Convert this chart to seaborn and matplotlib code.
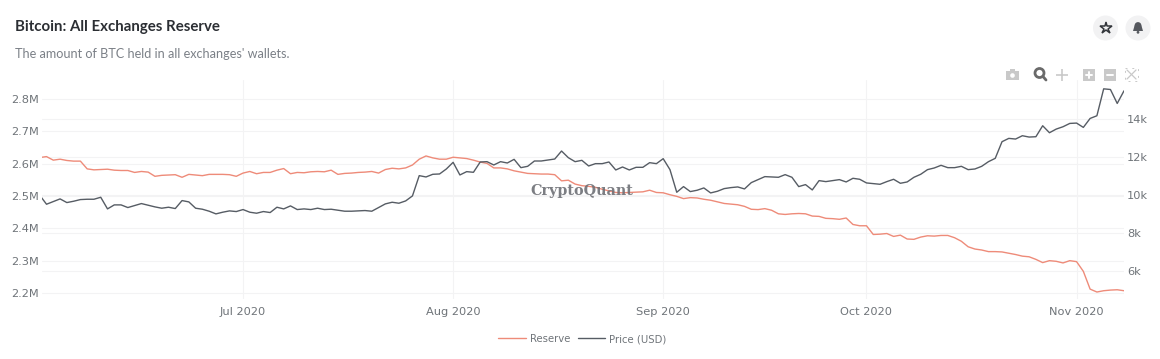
import pandas as pd
import matplotlib
matplotlib.use('Agg')
import matplotlib.pyplot as plt
import matplotlib.dates as mdates
from matplotlib.patches import Circle, Polygon, Rectangle
import seaborn as sns

# Values, one per day starting 1 June 2020.

start_date = '2020-06-01'
reserve = [
    2619, 2622, 2611, 2614, 2610, 2608, 2608, 2584, 2581, 2582, 2583, 2580, 2579, 2579,
    2573, 2576, 2574, 2561, 2564, 2565, 2566, 2558, 2567, 2565, 2563, 2567, 2567, 2567,
    2566, 2561, 2571, 2576, 2569, 2573, 2573, 2580, 2585, 2569, 2573, 2572, 2575, 2576,
    2575, 2580, 2567, 2570, 2571, 2573, 2574, 2576, 2571, 2582, 2586, 2584,
    2587, 2596, 2614, 2624, 2618, 2614, 2614, 2620, 2618, 2616, 2611, 2605, 2601, 2587,
    2587, 2584, 2578, 2574, 2570, 2569, 2568, 2568, 2566, 2547, 2549, 2537, 2532, 2530,
    2527, 2521, 2516, 2511, 2510, 2511, 2512, 2513, 2518, 2511, 2510, 2504, 2499, 2492,
    2495, 2494, 2490, 2487, 2482, 2477, 2475, 2473, 2468, 2459, 2458, 2461, 2456, 2445,
    2443, 2445, 2446,
    2445, 2438, 2437, 2431, 2430, 2428, 2432, 2412, 2408, 2408, 2381, 2382, 2384, 2375,
    2379, 2367, 2366, 2373, 2377, 2376, 2378, 2378, 2371, 2360, 2343, 2336, 2333, 2328,
    2328, 2327, 2323, 2319, 2314, 2312, 2304, 2294, 2300, 2298, 2293, 2300, 2297, 2267,
    2212, 2203, 2207, 2209, 2210, 2207,
]
price = [
    9982, 9508, 9648, 9789, 9596, 9666, 9754, 9771, 9771, 9876, 9262, 9473, 9473, 9333,
    9438, 9543, 9455, 9368, 9298, 9350, 9280, 9701, 9631, 9298, 9245, 9140, 8999, 9087,
    9157, 9122, 9227, 9087, 9034, 9122, 9070, 9350, 9262, 9420, 9227, 9262, 9227, 9298,
    9227, 9245, 9192, 9140, 9140, 9157, 9175, 9140, 9333, 9526, 9613, 9561,
    9683, 9947, 11016, 10946, 11087, 11104, 11367, 11718, 11052, 11227, 11192, 11736,
    11753, 11578, 11753, 11683, 11876, 11437, 11508, 11788, 11788, 11841, 11893, 12314,
    11964, 11753, 11823, 11525, 11648, 11648, 11736, 11315, 11472, 11315, 11455, 11455,
    11700, 11648, 11911, 11332, 10139, 10438, 10175, 10245, 10367, 10104, 10192, 10332,
    10385, 10420, 10315, 10648, 10806, 10964, 10946, 10929, 11069, 10929, 10438,
    10543, 10262, 10753, 10701, 10753, 10806, 10683, 10876, 10824, 10631, 10595, 10560,
    10701, 10824, 10613, 10683, 10929, 11087, 11332, 11420, 11560, 11437, 11437, 11508,
    11332, 11367, 11508, 11753, 11929, 12806, 12981, 12946, 13121, 13051, 13069, 13647,
    13279, 13472, 13595, 13770, 13788, 13560, 14033, 14174, 15594, 15559, 14823, 15489,
]
month_ticks = ['2020-07-01', '2020-08-01', '2020-09-01', '2020-10-01', '2020-11-01']
reserve_ticks = [2200, 2300, 2400, 2500, 2600, 2700, 2800]
reserve_labels = ['2.2M', '2.3M', '2.4M', '2.5M', '2.6M', '2.7M', '2.8M']
price_ticks = [6000, 8000, 10000, 12000, 14000]
price_labels = ['6k', '8k', '10k', '12k', '14k']

title = 'Bitcoin: All Exchanges Reserve'
subtitle = "The amount of BTC held in all exchanges' wallets."

W, H = 1160, 359
RED = '#ee8b79'
DARK = '#565c64'
GRID = '#f3f3f4'
TICK = '#6f7479'
ICON = '#c9c9c9'

plots_data = pd.DataFrame({
    'date': pd.date_range(start_date, periods=len(reserve), freq='D'),
    'reserve': reserve,
    'price': price,
})

sns.set_style('white')
plt.rcParams['font.family'] = ['DejaVu Sans']

fig = plt.figure(figsize=(W / 100, H / 100), dpi=100)
left, right, top, bottom = 42, 1124, 80, 299
ax1 = fig.add_axes([left / W, 1 - bottom / H, (right - left) / W, (bottom - top) / H])
ax2 = ax1.twinx()
ax_grid = ax1.twinx()  # only carries the price gridlines, under both lines

sns.lineplot(data=plots_data, x='date', y='reserve', ax=ax1, color=RED, linewidth=1.0, label='Reserve', legend=False)
sns.lineplot(data=plots_data, x='date', y='price', ax=ax2, color=DARK, linewidth=1.0, label='Price (USD)', legend=False)

ax1.set_xlim(pd.Timestamp('2020-06-01 08:00'), pd.Timestamp('2020-11-08'))
ax1.set_ylim(2181.4, 2859)
ax2.set_ylim(4510, 16060)
ax_grid.set_ylim(4510, 16060)

ax1.set_xticks(pd.to_datetime(month_ticks))
ax1.xaxis.set_major_formatter(mdates.DateFormatter('%b %Y'))
ax1.set_yticks(reserve_ticks, reserve_labels)
ax2.set_yticks(price_ticks, price_labels)
ax_grid.set_yticks(price_ticks)
ax_grid.tick_params(labelright=False)
ax1.set_xlabel('')
ax1.set_ylabel('')
ax2.set_ylabel('')

ax1.grid(True, color=GRID, linewidth=0.8)
ax1.set_axisbelow(True)
ax2.grid(False)
ax_grid.grid(True, axis='y', color=GRID, linewidth=0.8)

ax_grid.set_zorder(1)
ax1.set_zorder(2)
ax2.set_zorder(3)
ax1.patch.set_visible(False)
ax2.patch.set_visible(False)

for ax in (ax1, ax2, ax_grid):
    ax.tick_params(length=0, labelsize=8.2, labelcolor=TICK, pad=2)
    for spine in ax.spines.values():
        spine.set_visible(False)
ax1.tick_params(axis='x', pad=6)

handles = ax1.get_lines()[:1] + ax2.get_lines()[:1]
fig.legend(handles, ['Reserve', 'Price (USD)'], loc='center', bbox_to_anchor=(582.5 / W, 1 - 339 / H),
           ncol=2, frameon=False, fontsize=7.3, labelcolor=TICK, handlelength=2.7, handletextpad=0.4,
           columnspacing=0.8, borderpad=0)

# Page furniture drawn in pixel coordinates on top of the chart.

over = fig.add_axes([0, 0, 1, 1], facecolor='none', zorder=5)
over.set_xlim(0, W)
over.set_ylim(H, 0)
over.axis('off')

over.text(15, 27, title, family='Lato', weight='bold', fontsize=10.8, color='#2b2e33', va='center')
over.text(15, 54, subtitle, family='Lato', fontsize=9.1, color='#7b8087', va='center')
over.text(582, 191, 'CryptoQuant', family='DejaVu Serif', weight='bold', fontsize=10.4, color='#6e7076',
          ha='center', va='center', alpha=0.9)

# Star and bell buttons.
for cx in (1105.5, 1138):
    over.add_patch(Circle((cx, 28), 12.5, color='#f2f2f3', lw=0))
over.plot(1105.5, 27.5, marker='*', ms=9, mfc='none', mec='#33363b', mew=1.1)
over.add_patch(Circle((1138, 25.5), 3.4, color='#55585e', lw=0))
over.add_patch(Polygon([(1134.6, 25.5), (1141.4, 25.5), (1143, 31), (1133, 31)], color='#55585e', lw=0))
over.add_patch(Circle((1138, 32.3), 1.4, color='#55585e', lw=0))

# Plotly style mode bar.
over.add_patch(Rectangle((1006, 71), 13, 9, color=ICON, lw=0))
over.add_patch(Rectangle((1010, 69), 5, 3, color=ICON, lw=0))
over.add_patch(Circle((1012.5, 75.5), 2.3, color='white', lw=0))
over.add_patch(Circle((1039.5, 73), 4.5, fc='none', ec='#6a6a6a', lw=2))
over.plot([1043, 1046], [76.5, 80], color='#6a6a6a', lw=2)
over.plot(1061.5, 74.5, marker='+', ms=9, mew=1.2, color=ICON)
for x0 in (1083, 1104):
    over.add_patch(Rectangle((x0, 68.5), 12, 12, color=ICON, lw=0))
    over.plot([x0 + 3, x0 + 9], [74.5, 74.5], color='white', lw=1.4)
over.plot([1089, 1089], [71.5, 77.5], color='white', lw=1.4)
over.plot([1127, 1136], [70, 79], color=ICON, lw=0.9)
over.plot([1127, 1136], [79, 70], color=ICON, lw=0.9)
over.add_patch(Rectangle((1125, 68), 13, 13, fc='none', ec=ICON, lw=0.7, ls=(0, (2, 5))))

fig.savefig('out.png', dpi=100)
